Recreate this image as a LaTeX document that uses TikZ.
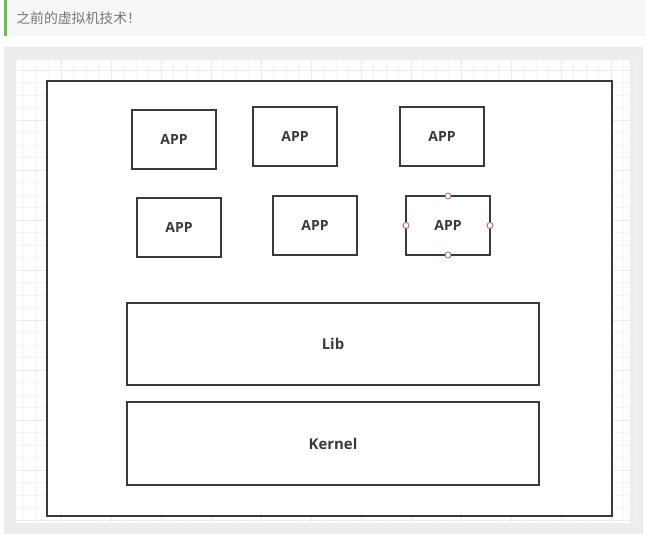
\documentclass[tikz,border=0pt]{standalone}
\usepackage{fontspec}
\setsansfont{Open Sans}
\newfontfamily\cjk{Noto Sans CJK SC}
\usepackage{tikz}
\usetikzlibrary{positioning, calc}

\definecolor{quotebg}{HTML}{F7F7F7}
\definecolor{quotebar}{HTML}{6CC04A}
\definecolor{quotetext}{HTML}{777777}
\definecolor{panelbg}{HTML}{EDEDEE}
\definecolor{gridminor}{HTML}{F5F5F6}
\definecolor{gridmajor}{HTML}{ECECED}
\definecolor{boxline}{HTML}{3A3A3A}
\definecolor{handle}{HTML}{B85A5A}

\begin{document}
\begin{tikzpicture}[
                x=0.75pt, y=-0.75pt,
                appbox/.style={draw=boxline, line width=1.1pt, rectangle, fill=white, inner sep=0pt, outer sep=0pt,
                    minimum width=63pt, minimum height=44.25pt, font=\sffamily\bfseries\fontsize{10.5}{12}\selectfont, text=boxline},
                layerbox/.style={appbox, minimum width=309pt, minimum height=61.5pt, font=\sffamily\bfseries\fontsize{11.2}{13}\selectfont},
                hostbox/.style={draw=boxline, line width=1.4pt, rectangle, fill=white, inner sep=0pt, outer sep=0pt,
                    minimum width=423.75pt, minimum height=326.25pt},
                grabber/.style={draw=handle, line width=0.6pt, circle, fill=white, inner sep=0pt, minimum size=4.5pt}
            ]

            % Rahmen
            \useasboundingbox (0,0) rectangle (645,534);
            \fill[white] (0,0) rectangle (645,534);
            \fill[quotebg] (4,0) rectangle (645,36);
            \fill[quotebar] (4,0) rectangle (7,36);
            \node[anchor=west, text=quotetext, inner sep=0pt, font=\cjk\fontsize{10.4}{12}\selectfont] (title) at (16,18) {之前的虚拟机技术！};

            % Raster
            \fill[panelbg] (4,47) rectangle (643,534);
            \fill[white] (16,60) rectangle (630,523);
            \foreach \i in {0,...,49} {
                \draw[gridminor, line width=0.5pt] ({23.5+12.5*\i},60) -- ({23.5+12.5*\i},523);
            }
            \foreach \j in {0,...,36} {
                \draw[gridminor, line width=0.5pt] (16,{70+12.5*\j}) -- (630,{70+12.5*\j});
            }
            \foreach \i in {0,...,12} {
                \draw[gridmajor, line width=0.5pt] ({61+50*\i},60) -- ({61+50*\i},523);
            }
            \foreach \j in {0,...,9} {
                \draw[gridmajor, line width=0.5pt] (16,{70+50*\j}) -- (630,{70+50*\j});
            }

            % Knoten
            \node[hostbox] (host) at (329.5,298.5) {};
            \node[appbox] (app1) at (174,139.5) {APP};
            \node[appbox] (app2) at (295,136.5) {APP};
            \node[appbox] (app3) at (442,136.5) {APP};
            \node[appbox] (app4) at (179,227.5) {APP};
            \node[appbox] (app5) at (315,225.5) {APP};
            \node[appbox] (app6) at (448,225.5) {APP};
            \node[layerbox] (lib) at (333,344) {Lib};
            \node[layerbox, minimum height=62.25pt] (kernel) at (333,443.5) {Kernel};

            % Markierung
            \foreach \a in {north, south, east, west} {
                \node[grabber] at (app6.\a) {};
            }

        \end{tikzpicture}
\end{document}
